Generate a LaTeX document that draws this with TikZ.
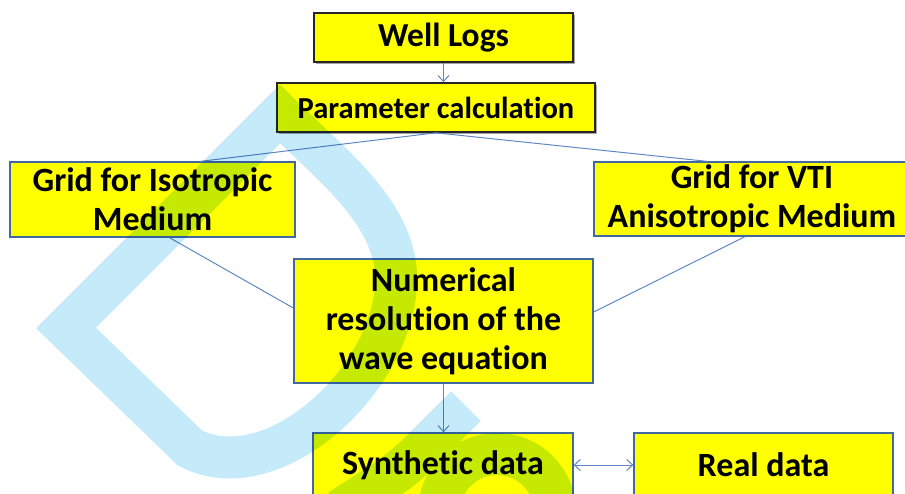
\documentclass[tikz,border=0pt]{standalone}
\usepackage{fontspec}
\setmainfont{Carlito}[Ligatures=NoCommon]
\usetikzlibrary{positioning}
\usetikzlibrary{calc}
\usetikzlibrary{arrows.meta}
\usetikzlibrary{shadows}
\definecolor{boxyellow}{RGB}{255,255,0}
\definecolor{boxedge}{RGB}{65,104,160}
\definecolor{linkblue}{RGB}{95,135,195}
\definecolor{wmcyan}{RGB}{197,234,250}

\tikzset{
    box/.style={draw=boxedge, line width=1.3pt, fill=boxyellow, align=center,
        inner sep=0pt, font=\fontsize{34}{39}\selectfont\bfseries},
    darkbox/.style={box, draw=black!85, line width=1.6pt,
        drop shadow={shadow xshift=1.5pt, shadow yshift=-2pt, opacity=0.7}},
    link/.style={draw=linkblue, line width=1pt},
    wmark/.style={draw=wmcyan, line width=42pt, line join=miter, blend mode=multiply},
}

\begin{document}
\begin{tikzpicture}[x=1pt, y=-1pt, >={Straight Barb[length=6pt,width=11pt]}]
    \useasboundingbox (0,0) rectangle (905,493);
    \clip (0,0) rectangle (905,493);

    % boxes
    \node[darkbox, minimum width=259pt, minimum height=49pt, font=\fontsize{33.5}{39}\selectfont\bfseries]
        (wl) at (443.5,37.5) {Well Logs};
    \node[darkbox, minimum width=318pt, minimum height=49pt, font=\fontsize{30.5}{39}\selectfont\bfseries]
        (param) at (436,107.5) {Parameter calculation};
    \node[box, minimum width=285pt, minimum height=75pt] (iso) at (152.5,199.5) {Grid for Isotropic\\Medium};
    \node[box, minimum width=316pt, minimum height=74pt] (vti) at (752,199) {Grid for VTI\\Anisotropic Medium};
    \node[box, minimum width=299pt, minimum height=124pt] (num) at (443.5,321) {Numerical\\resolution of the\\wave equation};
    \node[box, minimum width=260pt, minimum height=64pt] (syn) at (443,465) {Synthetic data};
    \node[box, minimum width=259pt, minimum height=64pt] (real) at (763.5,465) {Real data};

    % connectors
    \draw[link, ->] (wl.south) -- (wl.south |- param.north);
    \draw[link] (param.south) -- ([xshift=48pt]iso.north);
    \draw[link] (param.south) -- ([xshift=-45pt]vti.north);
    \draw[link] ([xshift=17pt]iso.south) -- ([yshift=13pt]num.west);
    \draw[link] ([xshift=-7pt]vti.south) -- ([yshift=9pt]num.east);
    \draw[link, ->] (num.south) -- (num.south |- syn.north);
    \draw[link, <->] (syn) -- (real);

    % watermark
    \draw[wmark] (66,328) -- (280,114) .. controls (330,164) and (400,215) .. (396,285)
        .. controls (390,385) and (270,490) .. (190,448) -- cycle;
    \draw[wmark, line cap=butt] (466,406) -- (420,452) .. controls (395,477) and (370,490) .. (340,510)
        (555,512) arc[start angle=0, end angle=360, radius=58];
\end{tikzpicture}
\end{document}
